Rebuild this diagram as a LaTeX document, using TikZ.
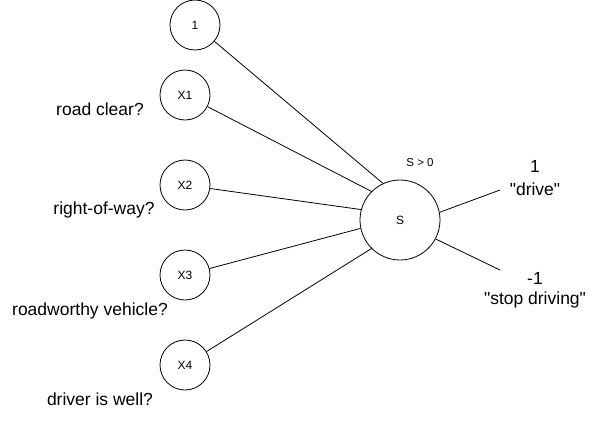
\documentclass[tikz,border=0pt]{standalone}
\usepackage{fontspec}
\setmainfont{Liberation Sans}[Ligatures=TeXOff]
\begin{document}
\begin{tikzpicture}[x=1pt,y=-1pt,
  neuron/.style={draw,circle,line width=0.8pt,inner sep=0pt,minimum size=50pt,font=\fontsize{12}{14}\selectfont},
  big/.style={font=\fontsize{17.5}{20}\selectfont,text height=0.72em,text depth=0pt,inner sep=0pt},
  small/.style={font=\fontsize{11.5}{13}\selectfont,text height=0.72em,text depth=0pt,inner sep=0pt},
  link/.style={line width=0.8pt}]
\useasboundingbox (0,0) rectangle (600,421);
\node[neuron] (n1) at (195,25) {1};
\node[neuron] (x1) at (185,95) {X1};
\node[neuron] (x2) at (185,185) {X2};
\node[neuron] (x3) at (185,275) {X3};
\node[neuron] (x4) at (185,365) {X4};
\node[neuron,minimum size=80pt] (s) at (400,220) {S};
\node[small] (th) at (420,163) {S > 0};
\node[big] (l1) at (100,112) {road clear?};
\node[big] (l2) at (104,211) {right-of-way?};
\node[big] (l3) at (90,312) {roadworthy vehicle?};
\node[big] (l4) at (100,402) {driver is well?};
\node[big] (o1) at (535,169) {1};
\node[big] (o1t) at (535,192) {\char34 drive\char34};
\node[big] (o2) at (535,281) {-1};
\node[big] (o2t) at (535,301) {\char34 stop driving\char34};
\coordinate (e1) at (500,190);
\coordinate (e2) at (500,270);
\draw[link] (n1) -- (s.115);
\draw[link] (x1) -- (s.135);
\draw[link] (x2) -- (s.165);
\draw[link] (x3) -- (s.192);
\draw[link] (x4) -- (s.225);
\draw[link] (s.11) -- (e1);
\draw[link] (s.-28) -- (e2);
\end{tikzpicture}
\end{document}
